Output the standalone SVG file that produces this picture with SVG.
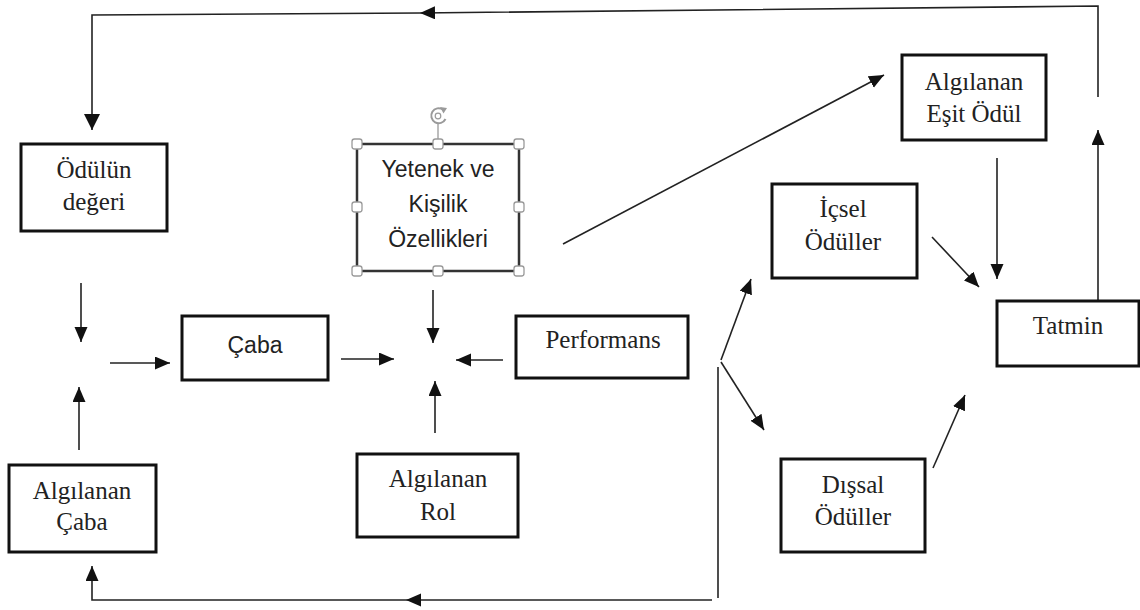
<svg xmlns="http://www.w3.org/2000/svg" width="1140" height="610" viewBox="0 0 1140 610">
  <style>
    .box { fill: #ffffff; stroke: #111111; stroke-width: 3; }
    .serif { font-family: "Liberation Serif", "Times New Roman", serif; font-size: 25px; fill: #222222; text-anchor: middle; }
    .sans { font-family: "Liberation Sans", Arial, sans-serif; font-size: 23px; fill: #222222; text-anchor: middle; }
    .wire { fill: none; stroke: #222222; stroke-width: 1.6; }
    .handle { fill: #ffffff; stroke: #9a9a9a; stroke-width: 1.3; }
  </style>
  <defs>
    <marker id="arrow" markerUnits="userSpaceOnUse" markerWidth="16" markerHeight="14" refX="15" refY="6.5" orient="auto">
      <path d="M0,0 L15,6.5 L0,13 z" fill="#111111"/>
    </marker>
    <marker id="arrowBig" markerUnits="userSpaceOnUse" markerWidth="18" markerHeight="16" refX="16" refY="8" orient="auto">
      <path d="M0,0 L16,8 L0,16 z" fill="#111111"/>
    </marker>
  </defs>

  <rect width="1140" height="610" fill="#ffffff"/>

  <!-- connectors -->
  <g id="connectors">
    <!-- feedback from Tatmin back to reward value -->
    <path class="wire" d="M1098,97 V6 L420,13" marker-end="url(#arrow)"/>
    <path class="wire" d="M420,13 L92,15 V130" marker-end="url(#arrowBig)"/>
    <!-- into the effort junction -->
    <line class="wire" x1="81" y1="283" x2="81" y2="342" marker-end="url(#arrow)"/>
    <line class="wire" x1="79" y1="450" x2="79" y2="387" marker-end="url(#arrow)"/>
    <line class="wire" x1="110" y1="363" x2="170" y2="363" marker-end="url(#arrow)"/>
    <!-- into the performance junction -->
    <line class="wire" x1="341" y1="359" x2="394" y2="359" marker-end="url(#arrow)"/>
    <line class="wire" x1="433" y1="290" x2="433" y2="343" marker-end="url(#arrow)"/>
    <line class="wire" x1="503" y1="360" x2="456" y2="360" marker-end="url(#arrow)"/>
    <line class="wire" x1="435" y1="433" x2="435" y2="381" marker-end="url(#arrow)"/>
    <!-- abilities to perceived equitable reward -->
    <line class="wire" x1="563" y1="244" x2="884" y2="75" marker-end="url(#arrow)"/>
    <!-- performance branches to rewards -->
    <line class="wire" x1="721" y1="360" x2="751" y2="279" marker-end="url(#arrow)"/>
    <line class="wire" x1="721" y1="362" x2="764" y2="430" marker-end="url(#arrow)"/>
    <!-- performance back to perceived effort -->
    <path class="wire" d="M718,367 V598"/>
    <path class="wire" d="M712,600 L406,600" marker-end="url(#arrow)"/>
    <path class="wire" d="M406,600 L92,600 V566" marker-end="url(#arrow)"/>
    <!-- rewards into satisfaction -->
    <line class="wire" x1="932" y1="237" x2="979" y2="287" marker-end="url(#arrow)"/>
    <line class="wire" x1="997" y1="158" x2="997" y2="279" marker-end="url(#arrow)"/>
    <line class="wire" x1="933" y1="468" x2="965" y2="395" marker-end="url(#arrow)"/>
    <line class="wire" x1="1098" y1="300" x2="1098" y2="130" marker-end="url(#arrow)"/>
  </g>

  <g id="odulun-degeri">
    <rect class="box" x="21" y="144" width="146" height="87"/>
    <text class="serif" x="94" y="178">Ödülün</text>
    <text class="serif" x="94" y="210">değeri</text>
  </g>

  <g id="caba">
    <rect class="box" x="182" y="316" width="146" height="64"/>
    <text class="sans" x="255" y="353">Çaba</text>
  </g>

  <g id="algilanan-caba">
    <rect class="box" x="9" y="465" width="147" height="87"/>
    <text class="serif" x="82" y="499">Algılanan</text>
    <text class="serif" x="82" y="530">Çaba</text>
  </g>

  <g id="yetenek">
    <rect x="357" y="144" width="162" height="127" fill="#ffffff" stroke="#333333" stroke-width="2.5"/>
    <text class="sans" x="438" y="177">Yetenek ve</text>
    <text class="sans" x="438" y="212">Kişilik</text>
    <text class="sans" x="438" y="247">Özellikleri</text>
    <!-- selection frame: rotate handle and sizing handles -->
    <line x1="438" y1="124" x2="438" y2="139" stroke="#9a9a9a" stroke-width="1.3"/>
    <path d="M443,109.5 A7.5,7.5 0 1 0 445.5,119" fill="none" stroke="#9a9a9a" stroke-width="2"/>
    <path d="M440,107 L447,108 L443.5,113.5 z" fill="#9a9a9a"/>
    <circle cx="438" cy="116" r="2.8" fill="none" stroke="#9a9a9a" stroke-width="1.2"/>
    <rect class="handle" x="352" y="139" width="10" height="10" rx="2.5"/>
    <rect class="handle" x="433" y="139" width="10" height="10" rx="2.5"/>
    <rect class="handle" x="514" y="139" width="10" height="10" rx="2.5"/>
    <rect class="handle" x="352" y="202" width="10" height="10" rx="2.5"/>
    <rect class="handle" x="514" y="202" width="10" height="10" rx="2.5"/>
    <rect class="handle" x="352" y="266" width="10" height="10" rx="2.5"/>
    <rect class="handle" x="433" y="266" width="10" height="10" rx="2.5"/>
    <rect class="handle" x="514" y="266" width="10" height="10" rx="2.5"/>
  </g>

  <g id="performans">
    <rect class="box" x="516" y="316" width="172" height="62"/>
    <text class="serif" x="603" y="348">Performans</text>
  </g>

  <g id="algilanan-rol">
    <rect class="box" x="357" y="454" width="161" height="83"/>
    <text class="serif" x="438" y="487">Algılanan</text>
    <text class="serif" x="438" y="520">Rol</text>
  </g>

  <g id="algilanan-esit-odul">
    <rect class="box" x="902" y="55" width="144" height="85"/>
    <text class="serif" x="974" y="90">Algılanan</text>
    <text class="serif" x="974" y="122">Eşit Ödül</text>
  </g>

  <g id="icsel-oduller">
    <rect class="box" x="772" y="184" width="145" height="94"/>
    <text class="serif" x="843" y="217">İçsel</text>
    <text class="serif" x="843" y="250">Ödüller</text>
  </g>

  <g id="dissal-oduller">
    <rect class="box" x="781" y="459" width="144" height="93"/>
    <text class="serif" x="853" y="493">Dışsal</text>
    <text class="serif" x="853" y="525">Ödüller</text>
  </g>

  <g id="tatmin">
    <rect class="box" x="997" y="301" width="142" height="65"/>
    <text class="serif" x="1068" y="334">Tatmin</text>
  </g>
</svg>
